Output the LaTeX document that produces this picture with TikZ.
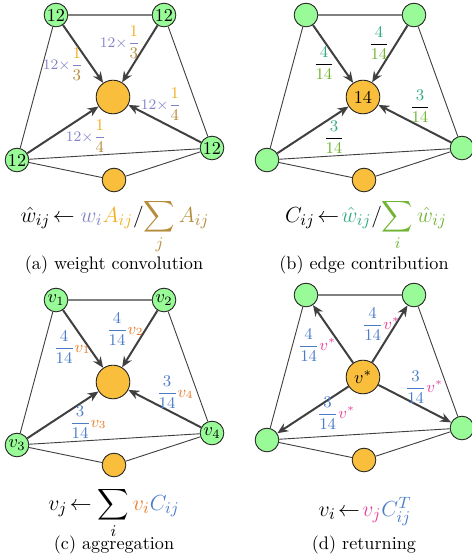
\documentclass[tikz,border=0pt]{standalone}
\usepackage{amsmath}
\usetikzlibrary{arrows.meta}
\definecolor{vgreen}{HTML}{98FB98}
\definecolor{vorange}{HTML}{F9BF3C}
\definecolor{wcol}{HTML}{8282C8}
\definecolor{acol}{HTML}{F0B020}
\definecolor{scol}{HTML}{B48C3A}
\definecolor{hcol}{HTML}{30AA84}
\definecolor{gcol}{HTML}{70B434}
\definecolor{ccol}{HTML}{4A7CC8}
\definecolor{vcol}{HTML}{EC7A26}
\definecolor{pcol}{HTML}{E8409A}
\begin{document}
\begin{tikzpicture}[x=0.55pt, y=-0.55pt,
  vtx/.style={circle, draw=black!85, fill=vgreen, line width=0.5pt, minimum size=13pt, inner sep=0pt},
  hub/.style={circle, draw=black!85, fill=vorange, line width=0.5pt, minimum size=18.5pt, inner sep=0pt},
  aux/.style={vtx, fill=vorange},
  edge/.style={black!75, line width=0.5pt},
  topedge/.style={black!50, line width=0.9pt},
  flow/.style={black!75, line width=1.1pt, -{Stealth[length=6pt, width=5pt]}},
  lbl/.style={font=\small, inner sep=1pt},
  fml/.style={anchor=base, font=\fontsize{12.5}{15}\selectfont},
  captext/.style={anchor=base}]
  \useasboundingbox (0,0) rectangle (472,558);

  % (a) weight convolution
  \begin{scope}
    \node[vtx] (a1) at (56,15) {12};
    \node[vtx] (a2) at (164,15) {12};
    \node[hub] (a0) at (113,97) {};
    \node[vtx] (a3) at (17,160) {12};
    \node[vtx] (a4) at (212,148) {12};
    \node[aux] (a5) at (114,180) {};
    \draw[topedge] (a1) -- (a2);
    \draw[edge] (a1) -- (a3) (a2) -- (a4) (a3) -- (a4) (a3) -- (a5) (a5) -- (a4);
    \draw[flow] (a1) -- (a0);
    \draw[flow] (a2) -- (a0);
    \draw[flow] (a3) -- (a0);
    \draw[flow] (a4) -- (a0);
    \node[lbl] (la1) at (63,64) {\color{wcol}\footnotesize$12\times$\small$\dfrac{\color{acol}1}{\color{scol}3}$};
    \node[lbl] (la2) at (120,42) {\color{wcol}\footnotesize$12\times$\small$\dfrac{\color{acol}1}{\color{scol}3}$};
    \node[lbl] (la3) at (86,136) {\color{wcol}\footnotesize$12\times$\small$\dfrac{\color{acol}1}{\color{scol}4}$};
    \node[lbl] (la4) at (161,104) {\color{wcol}\footnotesize$12\times$\small$\dfrac{\color{acol}1}{\color{scol}4}$};
    \node[fml] (fa) at (115,222) {$\hat{w}_{ij}\!\leftarrow {\color{wcol}w_i}{\color{acol}A_{ij}}/\displaystyle{\color{scol}\sum_j A_{ij}}$};
    \node[captext] (ca) at (114,269) {(a) weight convolution};
  \end{scope}

  % (b) edge contribution
  \begin{scope}[shift={(250,0)}]
    \node[vtx] (b1) at (56,15) {};
    \node[vtx] (b2) at (164,15) {};
    \node[hub] (b0) at (113,97) {14};
    \node[vtx] (b3) at (17,160) {};
    \node[vtx] (b4) at (212,148) {};
    \node[aux] (b5) at (114,180) {};
    \draw[topedge] (b1) -- (b2);
    \draw[edge] (b1) -- (b3) (b2) -- (b4) (b3) -- (b4) (b3) -- (b5) (b5) -- (b4);
    \draw[flow] (b1) -- (b0);
    \draw[flow] (b2) -- (b0);
    \draw[flow] (b3) -- (b0);
    \draw[flow] (b4) -- (b0);
    \node[lbl] (lb1) at (74,63) {$\dfrac{\color{hcol}4}{\color{gcol}14}$};
    \node[lbl] (lb2) at (129,43) {$\dfrac{\color{hcol}4}{\color{gcol}14}$};
    \node[lbl] (lb3) at (84,137) {$\dfrac{\color{hcol}3}{\color{gcol}14}$};
    \node[lbl] (lb4) at (170,106) {$\dfrac{\color{hcol}3}{\color{gcol}14}$};
    \node[fml] (fb) at (116,222) {$C_{ij}\!\leftarrow\!{\color{hcol}\hat{w}_{ij}}/\displaystyle{\color{gcol}\sum_i\hat{w}_{ij}}$};
    \node[captext] (cb) at (114,269) {(b) edge contribution};
  \end{scope}

  % (c) aggregation
  \begin{scope}[shift={(0,285)}]
    \node[vtx] (c1) at (56,15) {$v_1$};
    \node[vtx] (c2) at (164,15) {$v_2$};
    \node[hub] (c0) at (113,97) {};
    \node[vtx] (c3) at (17,160) {$v_3$};
    \node[vtx] (c4) at (212,148) {$v_4$};
    \node[aux] (c5) at (114,180) {};
    \draw[topedge] (c1) -- (c2);
    \draw[edge] (c1) -- (c3) (c2) -- (c4) (c3) -- (c4) (c3) -- (c5) (c5) -- (c4);
    \draw[flow] (c1) -- (c0);
    \draw[flow] (c2) -- (c0);
    \draw[flow] (c3) -- (c0);
    \draw[flow] (c4) -- (c0);
    \node[lbl] (lc1) at (72,62) {$\color{ccol}\dfrac{4}{14}{\color{vcol}v_1}$};
    \node[lbl] (lc2) at (125,44) {$\color{ccol}\dfrac{4}{14}{\color{vcol}v_2}$};
    \node[lbl] (lc3) at (88,137) {$\color{ccol}\dfrac{3}{14}{\color{vcol}v_3}$};
    \node[lbl] (lc4) at (175,107) {$\color{ccol}\dfrac{3}{14}{\color{vcol}v_4}$};
    \node[fml] (fc) at (114,225) {$v_j\!\leftarrow\displaystyle\sum_i{\color{vcol}v_i}{\color{ccol}C_{ij}}$};
    \node[captext] (cc) at (114,264) {(c) aggregation};
  \end{scope}

  % (d) returning
  \begin{scope}[shift={(250,280)}]
    \node[vtx] (d1) at (56,15) {};
    \node[vtx] (d2) at (164,15) {};
    \node[hub] (d0) at (113,97) {$v^*$};
    \node[vtx] (d3) at (17,160) {};
    \node[vtx] (d4) at (212,148) {};
    \node[aux] (d5) at (114,180) {};
    \draw[topedge] (d1) -- (d2);
    \draw[edge] (d1) -- (d3) (d2) -- (d4) (d3) -- (d4) (d3) -- (d5) (d5) -- (d4);
    \draw[flow] (d0) -- (d1);
    \draw[flow] (d0) -- (d2);
    \draw[flow] (d0) -- (d3);
    \draw[flow] (d0) -- (d4);
    \node[lbl] (ld1) at (67,65) {$\color{ccol}\dfrac{4}{14}{\color{pcol}v^*}$};
    \node[lbl] (ld2) at (131,44) {$\color{ccol}\dfrac{4}{14}{\color{pcol}v^*}$};
    \node[lbl] (ld3) at (86,133) {$\color{ccol}\dfrac{3}{14}{\color{pcol}v^*}$};
    \node[lbl] (ld4) at (174,107) {$\color{ccol}\dfrac{3}{14}{\color{pcol}v^*}$};
    \node[fml] (fd) at (115,236) {$v_i\!\leftarrow\!{\color{pcol}v_j}{\color{ccol}C_{ij}^T}$};
    \node[captext] (cd) at (114,269) {(d) returning};
  \end{scope}
\end{tikzpicture}
\end{document}
